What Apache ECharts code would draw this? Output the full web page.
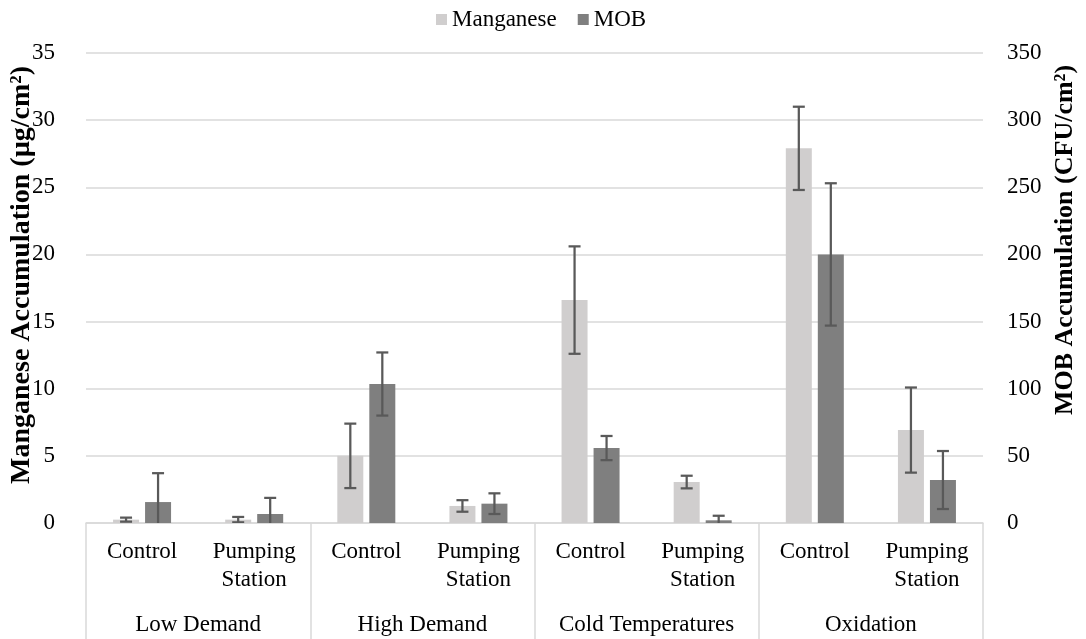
<!DOCTYPE html>
<html>
<head>
<meta charset="utf-8">
<script src="https://cdn.jsdelivr.net/npm/echarts@6/dist/echarts.min.js"></script>
<style>
  html, body { margin: 0; padding: 0; background: #fff; }
  #chart { width: 1086px; height: 639px; }
</style>
</head>
<body>
<div id="chart"></div>
<script>
// Treatment groups and the sites within each group
const groups = ['Low Demand', 'High Demand', 'Cold Temperatures', 'Oxidation'];
const sites = ['Control', 'Pumping\nStation', 'Control', 'Pumping\nStation',
               'Control', 'Pumping\nStation', 'Control', 'Pumping\nStation'];

// Manganese accumulation (µg/cm²) with standard deviation
const manganese = [0.25, 0.25, 5.0, 1.27, 16.6, 3.05, 27.9, 6.92];
const manganeseErr = [0.15, 0.2, 2.4, 0.43, 4.0, 0.47, 3.1, 3.17];

// MOB accumulation (CFU/cm²) with standard deviation
const mob = [15.6, 6.7, 103.5, 14.4, 55.8, 2.0, 200, 32];
const mobErr = [21.5, 12, 23.5, 7.7, 9, 3.4, 53, 21.6];

const FONT = '"Liberation Serif", "Times New Roman", serif';
const LABEL_SIZE = 23;
const BAR_W = 26;
const BAR_GAP = 6;

// Error bar drawn over a bar, shifted to that bar's slot in the category
function errorBar(shift) {
  return function (params, api) {
    const i = api.value(0);
    const v = api.value(1);
    const e = api.value(2);
    const top = api.coord([i, v + e]);
    const bot = api.coord([i, v - e]);
    const x = top[0] + shift;
    const cap = 6;
    const style = { stroke: '#595959', lineWidth: 2.25 };
    return {
      type: 'group',
      children: [
        { type: 'line', shape: { x1: x, y1: top[1], x2: x, y2: bot[1] }, style: style },
        { type: 'line', shape: { x1: x - cap, y1: top[1], x2: x + cap, y2: top[1] }, style: style },
        { type: 'line', shape: { x1: x - cap, y1: bot[1], x2: x + cap, y2: bot[1] }, style: style }
      ]
    };
  };
}

const half = (BAR_W + BAR_GAP) / 2;

const chart = echarts.init(document.getElementById('chart'), null, { renderer: 'canvas' });
chart.setOption({
  animation: false,
  textStyle: { fontFamily: FONT },
  legend: {
    data: ['Manganese', 'MOB'],
    top: 3,
    left: 431,
    icon: 'rect',
    itemWidth: 11,
    itemHeight: 11,
    itemGap: 21,
    textStyle: { fontFamily: FONT, fontSize: LABEL_SIZE, color: '#000' }
  },
  grid: { left: 86, right: 103, top: 53, bottom: 116, containLabel: false, outerBoundsMode: 'none' },
  xAxis: [
    {
      type: 'category',
      data: sites,
      axisLine: { show: true, lineStyle: { color: '#D9D9D9', width: 1.5 } },
      axisTick: { show: false },
      axisLabel: {
        interval: 0,
        margin: 15,
        fontFamily: FONT,
        fontSize: LABEL_SIZE,
        lineHeight: 28,
        color: '#000'
      }
    },
    {
      type: 'category',
      data: groups,
      position: 'bottom',
      axisLine: { show: false },
      axisTick: { show: true, length: 116, lineStyle: { color: '#D9D9D9', width: 1.5 } },
      axisLabel: {
        interval: 0,
        margin: 88,
        fontFamily: FONT,
        fontSize: LABEL_SIZE,
        lineHeight: 28,
        color: '#000'
      },
      splitLine: { show: false }
    }
  ],
  yAxis: [
    {
      type: 'value',
      min: 0,
      max: 35,
      interval: 5,
      name: 'Manganese Accumulation (µg/cm²)',
      nameLocation: 'middle',
      nameRotate: 90,
      nameGap: 50,
      nameMoveOverlap: false,
      nameTextStyle: { fontFamily: FONT, fontSize: 28, fontWeight: 'bold', color: '#000', padding: [0, 0, 0, 26] },
      axisLine: { show: false },
      axisTick: { show: false },
      axisLabel: { margin: 31, fontFamily: FONT, fontSize: LABEL_SIZE, color: '#000' },
      splitLine: { lineStyle: { color: '#D9D9D9', width: 1.5 } }
    },
    {
      type: 'value',
      min: 0,
      max: 350,
      interval: 50,
      name: 'MOB Accumulation (CFU/cm²)',
      nameLocation: 'middle',
      nameRotate: 90,
      nameGap: 69,
      nameMoveOverlap: false,
      nameTextStyle: { fontFamily: FONT, fontSize: 26, fontWeight: 'bold', color: '#000', padding: [0, 0, 0, 96] },
      axisLine: { show: false },
      axisTick: { show: false },
      axisLabel: { margin: 24, fontFamily: FONT, fontSize: LABEL_SIZE, color: '#000' },
      splitLine: { show: false }
    }
  ],
  series: [
    {
      name: 'Manganese',
      type: 'bar',
      xAxisIndex: 0,
      yAxisIndex: 0,
      data: manganese,
      barWidth: BAR_W,
      barGap: (BAR_GAP / BAR_W * 100).toFixed(1) + '%',
      itemStyle: { color: '#D0CECE' }
    },
    {
      name: 'MOB',
      type: 'bar',
      xAxisIndex: 0,
      yAxisIndex: 1,
      data: mob,
      barWidth: BAR_W,
      itemStyle: { color: '#7F7F7F' }
    },
    {
      name: 'Manganese SD',
      type: 'custom',
      xAxisIndex: 0,
      yAxisIndex: 0,
      clip: true,
      z: 5,
      renderItem: errorBar(-half),
      data: manganese.map((v, i) => [i, v, manganeseErr[i]])
    },
    {
      name: 'MOB SD',
      type: 'custom',
      xAxisIndex: 0,
      yAxisIndex: 1,
      clip: true,
      z: 5,
      renderItem: errorBar(half),
      data: mob.map((v, i) => [i, v, mobErr[i]])
    }
  ]
});
</script>
</body>
</html>
